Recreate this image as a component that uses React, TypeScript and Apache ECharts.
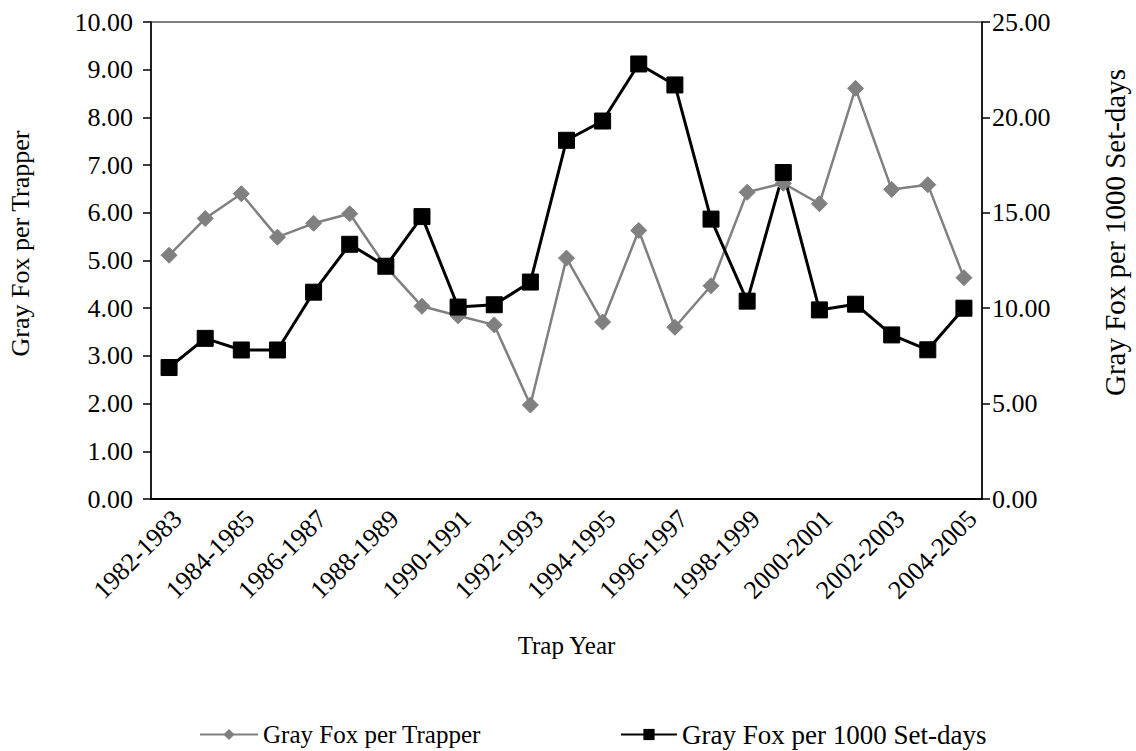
import React, { useEffect, useRef } from "react";
import * as echarts from "echarts";

const categories = [
  "1982-1983", "1983-1984", "1984-1985", "1985-1986", "1986-1987", "1987-1988",
  "1988-1989", "1989-1990", "1990-1991", "1991-1992", "1992-1993", "1993-1994",
  "1994-1995", "1995-1996", "1996-1997", "1997-1998", "1998-1999", "1999-2000",
  "2000-2001", "2001-2002", "2002-2003", "2003-2004", "2004-2005",
];

const perTrapper = [
  5.11, 5.88, 6.4, 5.49, 5.78, 5.98, 4.87, 4.04, 3.84, 3.65, 1.97, 5.05,
  3.71, 5.63, 3.6, 4.47, 6.43, 6.62, 6.19, 8.61, 6.49, 6.59, 4.64,
];

const per1000SetDays = [
  6.89, 8.42, 7.81, 7.81, 10.84, 13.35, 12.2, 14.8, 10.06, 10.18, 11.37, 18.8,
  19.81, 22.8, 21.7, 14.67, 10.37, 17.11, 9.91, 10.21, 8.6, 7.82, 10.0,
];

const seriesNames = ["Gray Fox per Trapper", "Gray Fox per 1000 Set-days"];
const axisTitles = { x: "Trap Year", left: "Gray Fox per Trapper", right: "Gray Fox per 1000 Set-days" };

const FONT = "'Liberation Serif', 'Times New Roman', serif";

export default function App() {
  const ref = useRef<HTMLDivElement>(null);

  useEffect(() => {
    if (!ref.current) return;
    const chart = echarts.init(ref.current, undefined, { renderer: "svg" });
    chart.setOption({
      animation: false,
      backgroundColor: "#ffffff",
      textStyle: { fontFamily: FONT, color: "#000" },
      grid: {
        left: 151,
        right: 154,
        top: 22,
        bottom: 252,
        outerBoundsMode: "none",
        containLabel: false,
        show: true,
        borderColor: "#000",
        borderWidth: 1,
      },
      legend: [
        {
          top: 717,
          left: 194,
          itemWidth: 58,
          itemHeight: 14,
          itemGap: 4,
          textStyle: { fontFamily: FONT, fontSize: 25, color: "#000" },
          data: [seriesNames[0]],
        },
        {
          top: 716,
          left: 615,
          itemWidth: 56,
          itemHeight: 14,
          textStyle: { fontFamily: FONT, fontSize: 27, color: "#000" },
          data: [seriesNames[1]],
        },
      ],
      xAxis: {
        type: "category",
        data: categories,
        boundaryGap: true,
        name: axisTitles.x,
        nameLocation: "middle",
        nameGap: 134,
        nameTextStyle: { fontFamily: FONT, fontSize: 25, color: "#000" },
        axisLine: { lineStyle: { color: "#000", width: 2 } },
        axisTick: { interval: 0, length: 8, lineStyle: { color: "#000", width: 1.5 } },
        axisLabel: {
          interval: 1,
          rotate: 45,
          margin: 24,
          padding: [0, -12, 0, 0],
          fontFamily: FONT,
          fontSize: 26,
          color: "#000",
        },
        splitLine: { show: false },
      },
      yAxis: [
        {
          type: "value",
          min: 0,
          max: 10,
          interval: 1,
          position: "left",
          name: axisTitles.left,
          nameLocation: "middle",
          nameRotate: 90,
          nameGap: 118,
          nameTextStyle: { fontFamily: FONT, fontSize: 26, color: "#000", padding: [0, 0, 0, 34] },
          axisLine: { show: true, lineStyle: { color: "#000", width: 1.5 } },
          axisTick: { show: true, length: 8, lineStyle: { color: "#000", width: 1.5 } },
          axisLabel: {
            margin: 18,
            fontFamily: FONT,
            fontSize: 26,
            color: "#000",
            formatter: (v: number) => v.toFixed(2),
          },
          splitLine: { show: false },
        },
        {
          type: "value",
          min: 0,
          max: 25,
          interval: 5,
          position: "right",
          name: axisTitles.right,
          nameLocation: "middle",
          nameRotate: 90,
          nameGap: 118,
          nameTextStyle: { fontFamily: FONT, fontSize: 29, color: "#000", padding: [0, 0, 0, 56] },
          axisLine: { show: true, lineStyle: { color: "#000", width: 1.5 } },
          axisTick: { show: true, length: 8, lineStyle: { color: "#000", width: 1.5 } },
          axisLabel: {
            margin: 10,
            fontFamily: FONT,
            fontSize: 26,
            color: "#000",
            formatter: (v: number) => v.toFixed(2),
          },
          splitLine: { show: false },
        },
      ],
      series: [
        {
          name: seriesNames[0],
          type: "line",
          yAxisIndex: 0,
          data: perTrapper,
          symbol: "diamond",
          symbolSize: 16,
          showAllSymbol: true,
          lineStyle: { color: "#808080", width: 2.5 },
          itemStyle: { color: "#808080", borderColor: "#808080" },
        },
        {
          name: seriesNames[1],
          type: "line",
          yAxisIndex: 1,
          data: per1000SetDays,
          symbol: "rect",
          symbolSize: 16,
          showAllSymbol: true,
          lineStyle: { color: "#000000", width: 3 },
          itemStyle: { color: "#000000", borderColor: "#000000" },
        },
      ],
    });
    return () => chart.dispose();
  }, []);

  return (
    <div
      ref={ref}
      style={{ width: 1136, height: 751, position: "absolute", left: 0, top: 0, background: "#fff" }}
    />
  );
}
